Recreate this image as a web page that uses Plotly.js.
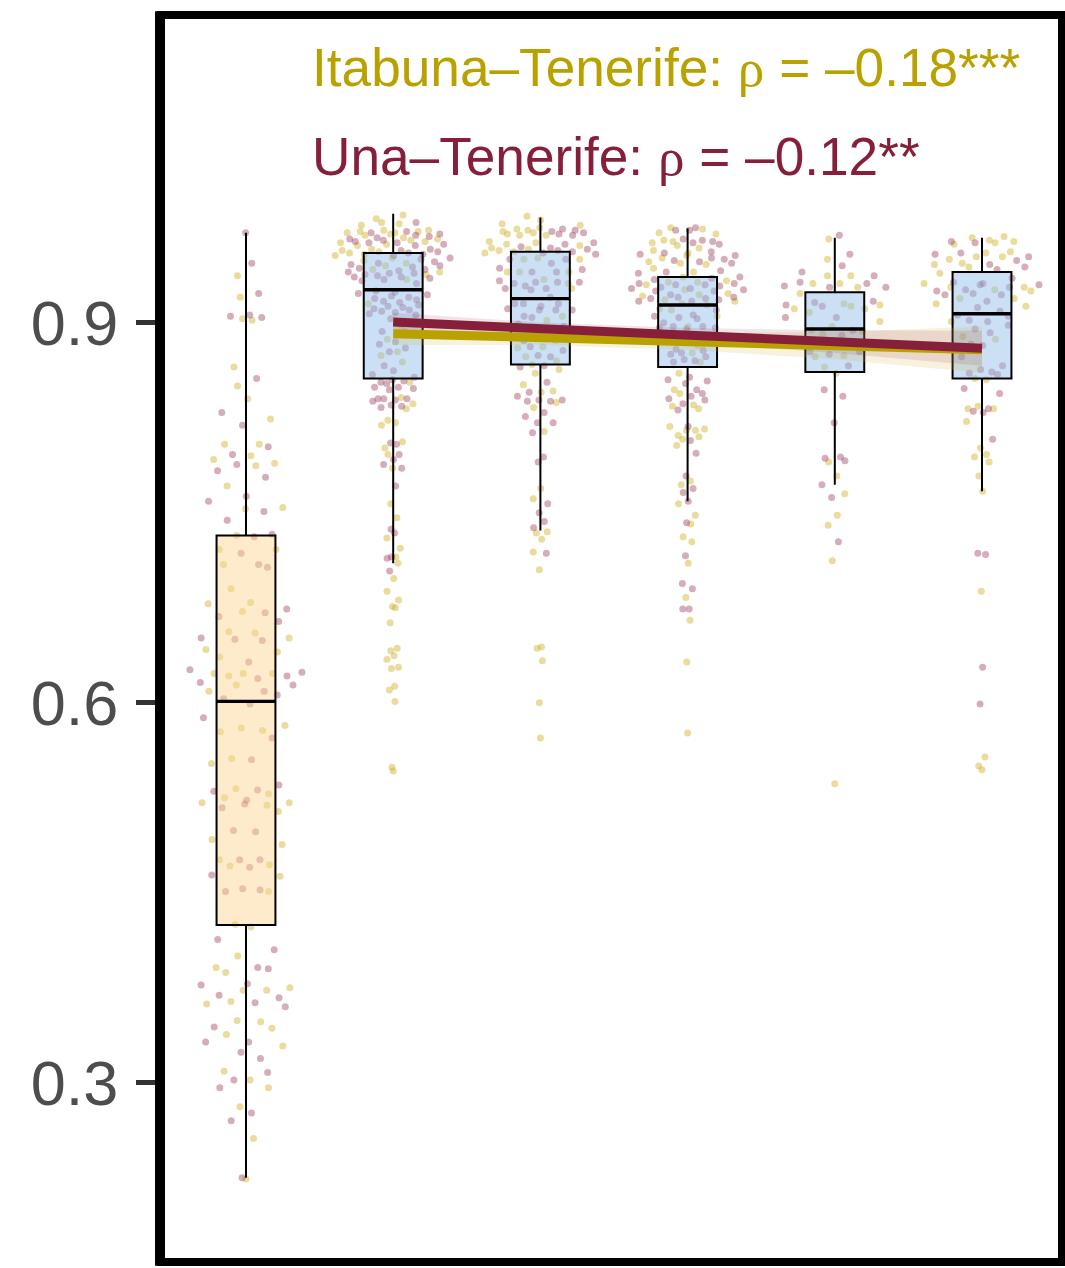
<!DOCTYPE html>
<html>
<head>
<meta charset="utf-8">
<script src="https://cdn.plot.ly/plotly-3.0.1.min.js"></script>
<style>
  html, body { margin: 0; padding: 0; background: #ffffff; }
  #chart { width: 1065px; height: 1268px; }
</style>
</head>
<body>
<div id="chart"></div>
<script>
// ---- categories and box summaries ----
const groups = [1, 2, 3, 4, 5, 6];
const boxLower  = [0.225, 0.710, 0.736, 0.759, 0.772, 0.767];
const boxQ1     = [0.4245, 0.856, 0.867, 0.865, 0.861, 0.856];
const boxMedian = [0.601, 0.926, 0.919, 0.914, 0.895, 0.907];
const boxQ3     = [0.732, 0.955, 0.956, 0.936, 0.924, 0.940];
const boxUpper  = [0.971, 0.986, 0.983, 0.9745, 0.967, 0.967];

// ---- individual observations, Itabuna–Tenerife (gold) ----
const goldG1 = [0.937,0.920,0.902,0.903,0.865,0.850,0.840,0.824,0.804,0.804,0.795,0.792,0.787,0.789,0.771,0.754,0.753,0.732,
  0.721,0.721,0.709,0.690,0.679,0.672,0.678,0.655,0.656,0.651,0.642,0.640,0.636,0.621,0.623,0.623,0.623,0.614,0.609,0.580,
  0.582,0.577,0.578,0.552,0.556,0.528,0.532,0.525,0.521,0.519,0.514,0.521,0.492,0.488,0.476,0.472,0.471,0.463,0.451,0.423,
  0.425,0.400,0.391,0.387,0.375,0.373,0.373,0.362,0.364,0.348,0.349,0.343,0.338,0.329,0.309,0.302,0.296,0.281,0.256,0.224];
const goldG2 = [0.985,0.982,0.979,0.978,0.977,0.973,0.972,0.971,0.973,0.970,0.972,0.971,0.969,0.966,0.963,0.965,0.967,0.962,
  0.964,0.961,0.958,0.955,0.957,0.953,0.956,0.954,0.951,0.947,0.945,0.949,0.942,0.938,0.934,0.940,0.915,0.893,0.887,0.877,
  0.874,0.869,0.898,0.853,0.841,0.836,0.832,0.823,0.819,0.821,0.806,0.801,0.796,0.785,0.757,0.746,0.730,0.722,0.715,0.710,
  0.698,0.688,0.681,0.676,0.675,0.663,0.643,0.641,0.637,0.634,0.627,0.628,0.613,0.610,0.601,0.549,0.546];
const goldG3 = [0.984,0.978,0.975,0.970,0.971,0.977,0.981,0.972,0.973,0.974,0.969,0.969,0.964,0.962,0.963,0.961,0.959,0.957,
  0.955,0.958,0.956,0.940,0.950,0.940,0.950,0.951,0.940,0.931,0.934,0.927,0.902,0.905,0.886,0.881,0.880,0.873,0.870,0.867,
  0.860,0.863,0.851,0.845,0.846,0.837,0.833,0.814,0.769,0.761,0.735,0.734,0.729,0.719,0.705,0.644,0.643,0.633,0.600,0.572];
const goldG4 = [0.975,0.974,0.971,0.970,0.965,0.961,0.963,0.964,0.959,0.953,0.955,0.957,0.947,0.948,0.946,0.951,0.940,0.943,
  0.936,0.930,0.932,0.923,0.921,0.922,0.914,0.915,0.910,0.905,0.932,0.933,0.926,0.918,0.917,0.911,0.897,0.882,0.876,0.869,
  0.860,0.847,0.844,0.835,0.834,0.832,0.815,0.818,0.810,0.815,0.816,0.811,0.808,0.803,0.775,0.772,0.757,0.748,0.741,0.731,
  0.727,0.710,0.683,0.665,0.632,0.576];
const goldG5 = [0.966,0.950,0.937,0.937,0.931,0.928,0.931,0.914,0.911,0.923,0.915,0.911,0.913,0.908,0.901,0.894,0.897,0.891,
  0.893,0.874,0.873,0.865,0.860,0.790,0.779,0.765,0.748,0.740,0.712,0.536];
const goldG6 = [0.967,0.962,0.965,0.968,0.963,0.964,0.952,0.952,0.956,0.955,0.947,0.950,0.944,0.946,0.939,0.928,0.928,0.919,
  0.919,0.926,0.931,0.925,0.915,0.913,0.901,0.889,0.887,0.856,0.855,0.832,0.834,0.832,0.822,0.801,0.796,0.794,0.790,0.779,
  0.767,0.688,0.557,0.550,0.547];

// ---- individual observations, Una–Tenerife (maroon) ----
const maroonG1 = [0.971,0.947,0.923,0.904,0.906,0.905,0.856,0.829,0.819,0.802,0.796,0.788,0.783,0.778,0.763,0.759,0.751,0.744,
  0.733,0.731,0.718,0.707,0.709,0.671,0.674,0.664,0.668,0.650,0.651,0.649,0.632,0.624,0.626,0.619,0.616,0.621,0.614,0.609,
  0.606,0.603,0.599,0.588,0.572,0.555,0.535,0.530,0.531,0.523,0.520,0.517,0.499,0.498,0.476,0.470,0.476,0.464,0.453,0.451,
  0.452,0.413,0.405,0.390,0.391,0.377,0.378,0.369,0.367,0.360,0.363,0.344,0.332,0.332,0.324,0.319,0.308,0.302,0.296,0.276,
  0.270,0.225];
const maroonG2 = [0.979,0.972,0.970,0.971,0.969,0.968,0.966,0.964,0.963,0.965,0.962,0.967,0.961,0.963,0.958,0.956,0.954,0.957,
  0.955,0.953,0.951,0.948,0.950,0.946,0.945,0.947,0.943,0.941,0.939,0.936,0.933,0.944,0.940,0.937,0.935,0.942,0.938,0.934,
  0.931,0.939,0.936,0.925,0.922,0.920,0.917,0.913,0.910,0.908,0.923,0.919,0.916,0.912,0.907,0.921,0.918,0.914,0.911,0.909,
  0.906,0.924,0.903,0.883,0.885,0.877,0.880,0.866,0.859,0.862,0.893,0.853,0.852,0.854,0.857,0.855,0.849,0.847,0.848,0.849,
  0.840,0.838,0.840,0.839,0.840,0.834,0.835,0.833,0.805,0.804,0.796,0.792,0.788,0.785,0.771,0.737,0.734,0.715,0.714,0.704];
const maroonG3 = [0.972,0.973,0.974,0.971,0.970,0.969,0.963,0.960,0.958,0.957,0.955,0.962,0.959,0.956,0.954,0.947,0.940,0.931,
  0.932,0.933,0.927,0.950,0.942,0.950,0.943,0.940,0.932,0.932,0.927,0.926,0.929,0.920,0.915,0.911,0.897,0.915,0.910,0.910,
  0.913,0.915,0.910,0.905,0.904,0.896,0.895,0.899,0.886,0.878,0.881,0.873,0.874,0.866,0.865,0.853,0.845,0.839,0.842,0.838,
  0.838,0.839,0.829,0.826,0.821,0.821,0.813,0.794,0.790,0.757,0.750,0.743,0.738,0.718];
const maroonG4 = [0.975,0.973,0.973,0.965,0.966,0.964,0.963,0.962,0.955,0.954,0.956,0.953,0.947,0.950,0.949,0.948,0.951,0.940,
  0.939,0.941,0.936,0.935,0.934,0.931,0.927,0.928,0.930,0.922,0.919,0.920,0.918,0.917,0.906,0.896,0.895,0.929,0.927,0.931,
  0.930,0.926,0.925,0.925,0.919,0.920,0.917,0.910,0.904,0.905,0.900,0.903,0.897,0.896,0.897,0.876,0.878,0.879,0.869,0.873,
  0.870,0.871,0.875,0.857,0.852,0.855,0.854,0.844,0.847,0.842,0.839,0.840,0.836,0.831,0.818,0.807,0.797,0.779,0.766,0.769,
  0.759,0.742,0.716,0.694,0.690,0.674,0.674];
const maroonG5 = [0.969,0.954,0.945,0.937,0.940,0.931,0.928,0.928,0.932,0.929,0.917,0.904,0.913,0.914,0.904,0.894,0.890,0.877,
  0.875,0.866,0.877,0.916,0.847,0.842,0.821,0.791,0.794,0.793,0.772,0.762,0.727];
const maroonG6 = [0.963,0.964,0.954,0.955,0.952,0.944,0.949,0.946,0.942,0.931,0.922,0.926,0.930,0.917,0.923,0.925,0.935,0.930,
  0.932,0.928,0.922,0.912,0.909,0.906,0.902,0.901,0.892,0.883,0.882,0.866,0.859,0.861,0.873,0.860,0.863,0.905,0.895,0.898,
  0.844,0.848,0.832,0.829,0.830,0.808,0.718,0.717,0.628,0.599];

// ---- fitted trends (categories 2–6) with confidence half-widths ----
const fitGroups = [2, 3, 4, 5, 6];
const goldFit = [0.8913, 0.8882, 0.8850, 0.8819, 0.8787];
const goldHalfCI = [0.0090, 0.0058, 0.0066, 0.0108, 0.0182];
const maroonFit = [0.9005, 0.8953, 0.8901, 0.8850, 0.8798];
const maroonHalfCI = [0.0074, 0.0049, 0.0057, 0.0090, 0.0138];

// ---- text ----
const RHO = '<span style="font-family:Liberation Serif, DejaVu Serif, serif">ρ</span>';
const labelGold = 'Itabuna–Tenerife: ' + RHO + ' = –0.18***';
const labelMaroon = 'Una–Tenerife: ' + RHO + ' = –0.12**';
const yTickVals = [0.3, 0.6, 0.9];
const yTickText = ['0.3', '0.6', '0.9'];

// ---- styling ----
const GOLD = '#B9A100';
const MAROON = '#86203A';
const GOLD_DOT = 'rgba(205,175,35,0.44)';
const MAROON_DOT = 'rgba(140,30,65,0.36)';
const FONT = 'Liberation Sans, Arial, Helvetica, sans-serif';
const BOX_WIDTH = 0.4;
const CLOUD_HALF_WIDTH = 0.4;
const X_RANGE = [0.4226, 6.5435];
const Y_RANGE = [0.1584, 1.1429];

const goldSets = [goldG1, goldG2, goldG3, goldG4, goldG5, goldG6];
const maroonSets = [maroonG1, maroonG2, maroonG3, maroonG4, maroonG5, maroonG6];

// ---- quasirandom horizontal offsets (density-scaled van der Corput) ----
function vanDerCorput(i) {            // radical inverse in base 2, i >= 1
  let v = 0, f = 0.5;
  while (i > 0) { v += f * (i & 1); i >>= 1; f *= 0.5; }
  return v;
}
function quantile(sorted, p) {
  const h = (sorted.length - 1) * p, lo = Math.floor(h), hi = Math.ceil(h);
  return sorted[lo] + (sorted[hi] - sorted[lo]) * (h - lo);
}
function bandwidthNrd0(vals) {
  const n = vals.length;
  const mean = vals.reduce((a, b) => a + b, 0) / n;
  const sd = Math.sqrt(vals.reduce((a, b) => a + (b - mean) * (b - mean), 0) / (n - 1));
  const s = vals.slice().sort((a, b) => a - b);
  const iqr = quantile(s, 0.75) - quantile(s, 0.25);
  const lo = Math.min(sd, iqr / 1.34) || sd || 1;
  return 0.9 * lo * Math.pow(n, -0.2);
}
function cloudOffsets(vals, adjust) {
  const bw = bandwidthNrd0(vals) * adjust;
  const dens = y => vals.reduce((a, v) => a + Math.exp(-0.5 * ((y - v) / bw) ** 2), 0);
  const lo = Math.min(...vals) - 3 * bw, hi = Math.max(...vals) + 3 * bw;
  let maxD = 0;
  for (let k = 0; k <= 400; k++) maxD = Math.max(maxD, dens(lo + (hi - lo) * k / 400));
  const order = vals.map((v, i) => i).sort((a, b) => vals[a] - vals[b] || a - b);
  const rank = new Array(vals.length);
  order.forEach((idx, r) => { rank[idx] = r + 1; });
  return vals.map((v, i) => (vanDerCorput(rank[i]) - 0.5) * 2 * CLOUD_HALF_WIDTH * dens(v) / maxD);
}

const goldX = [], goldY = [], maroonX = [], maroonY = [];
groups.forEach((g, gi) => {
  const gVals = goldSets[gi], mVals = maroonSets[gi];
  const all = gVals.concat(mVals);
  const offs = cloudOffsets(all, 0.5);
  all.forEach((v, i) => {
    if (i < gVals.length) { goldX.push(g + offs[i]); goldY.push(v); }
    else { maroonX.push(g + offs[i]); maroonY.push(v); }
  });
});

const traces = [];

// points sit on the base axes, underneath everything else
traces.push({
  type: 'scatter', mode: 'markers', x: goldX, y: goldY,
  marker: { color: GOLD_DOT, size: 7, line: { width: 0 } }, hoverinfo: 'y', showlegend: false
});
traces.push({
  type: 'scatter', mode: 'markers', x: maroonX, y: maroonY,
  marker: { color: MAROON_DOT, size: 7, line: { width: 0 } }, hoverinfo: 'y', showlegend: false
});

// translucent summary boxes on the overlaid axes
function summaryBox(idx, fill) {
  return {
    type: 'box', xaxis: 'x2', yaxis: 'y2',
    x: idx.map(i => groups[i]),
    lowerfence: idx.map(i => boxLower[i]),
    q1: idx.map(i => boxQ1[i]),
    median: idx.map(i => boxMedian[i]),
    q3: idx.map(i => boxQ3[i]),
    upperfence: idx.map(i => boxUpper[i]),
    width: BOX_WIDTH,
    fillcolor: fill,
    line: { color: '#000000', width: 2 },
    whiskerwidth: 0,
    boxpoints: false,
    hoverinfo: 'skip',
    showlegend: false
  };
}
traces.push(summaryBox([0], 'rgba(251,214,146,0.48)'));
traces.push(summaryBox([1, 2, 3, 4, 5], 'rgba(146,190,234,0.48)'));

// thicker median bars
const medX = [], medY = [];
groups.forEach((g, i) => {
  medX.push(g - BOX_WIDTH / 2, g + BOX_WIDTH / 2, null);
  medY.push(boxMedian[i], boxMedian[i], null);
});
traces.push({
  type: 'scatter', mode: 'lines', x: medX, y: medY, xaxis: 'x2', yaxis: 'y2',
  line: { color: '#000000', width: 3.4 }, hoverinfo: 'skip', showlegend: false
});

// confidence bands and trend lines
function band(fit, half, fill) {
  const upper = fit.map((v, i) => v + half[i]);
  const lower = fit.map((v, i) => v - half[i]);
  return {
    type: 'scatter', mode: 'lines', xaxis: 'x2', yaxis: 'y2',
    x: fitGroups.concat(fitGroups.slice().reverse()),
    y: upper.concat(lower.slice().reverse()),
    fill: 'toself', fillcolor: fill, line: { width: 0 },
    hoverinfo: 'skip', showlegend: false
  };
}
traces.push(band(goldFit, goldHalfCI, 'rgba(205,185,70,0.18)'));
traces.push(band(maroonFit, maroonHalfCI, 'rgba(150,40,60,0.13)'));
traces.push({
  type: 'scatter', mode: 'lines', x: fitGroups, y: goldFit, xaxis: 'x2', yaxis: 'y2',
  line: { color: GOLD, width: 9 }, hoverinfo: 'skip', showlegend: false
});
traces.push({
  type: 'scatter', mode: 'lines', x: fitGroups, y: maroonFit, xaxis: 'x2', yaxis: 'y2',
  line: { color: MAROON, width: 9 }, hoverinfo: 'skip', showlegend: false
});

const hiddenAxis = {
  showticklabels: false, ticks: '', showgrid: false, zeroline: false, showline: false
};

const layout = {
  width: 1065,
  height: 1268,
  margin: { l: 161, r: 3, t: 15, b: 6 },
  paper_bgcolor: '#ffffff',
  plot_bgcolor: '#ffffff',
  boxmode: 'overlay',
  showlegend: false,
  font: { family: FONT },
  xaxis: Object.assign({ range: X_RANGE }, hiddenAxis),
  xaxis2: Object.assign({ range: X_RANGE, overlaying: 'x' }, hiddenAxis),
  yaxis: {
    range: Y_RANGE,
    tickvals: yTickVals, ticktext: yTickText,
    ticks: 'outside', ticklen: 24, tickwidth: 5, tickcolor: '#333333',
    ticklabelstandoff: 5,
    tickfont: { family: FONT, size: 63, color: '#4D4D4D' },
    showgrid: false, zeroline: false, showline: false
  },
  yaxis2: Object.assign({ range: Y_RANGE, overlaying: 'y' }, hiddenAxis),
  shapes: [
    { type: 'rect', xref: 'paper', yref: 'paper', x0: 0, x1: 1, y0: 0, y1: 1,
      line: { color: '#000000', width: 8 }, fillcolor: 'rgba(0,0,0,0)', layer: 'above' },
    { type: 'line', xref: 'paper', yref: 'paper', x0: -0.0011, x1: -0.0011, y0: -0.003, y1: 1.003,
      line: { color: '#000000', width: 10 }, layer: 'above' }
  ],
  annotations: [
    { xref: 'paper', yref: 'paper', x: 0.1654, y: 0.9575, xanchor: 'left', yanchor: 'middle',
      text: labelGold, showarrow: false, font: { family: FONT, size: 53.2, color: GOLD } },
    { xref: 'paper', yref: 'paper', x: 0.1654, y: 0.8861, xanchor: 'left', yanchor: 'middle',
      text: labelMaroon, showarrow: false, font: { family: FONT, size: 53.2, color: MAROON } }
  ]
};

Plotly.newPlot('chart', traces, layout, { displayModeBar: false, staticPlot: true });
</script>
</body>
</html>
